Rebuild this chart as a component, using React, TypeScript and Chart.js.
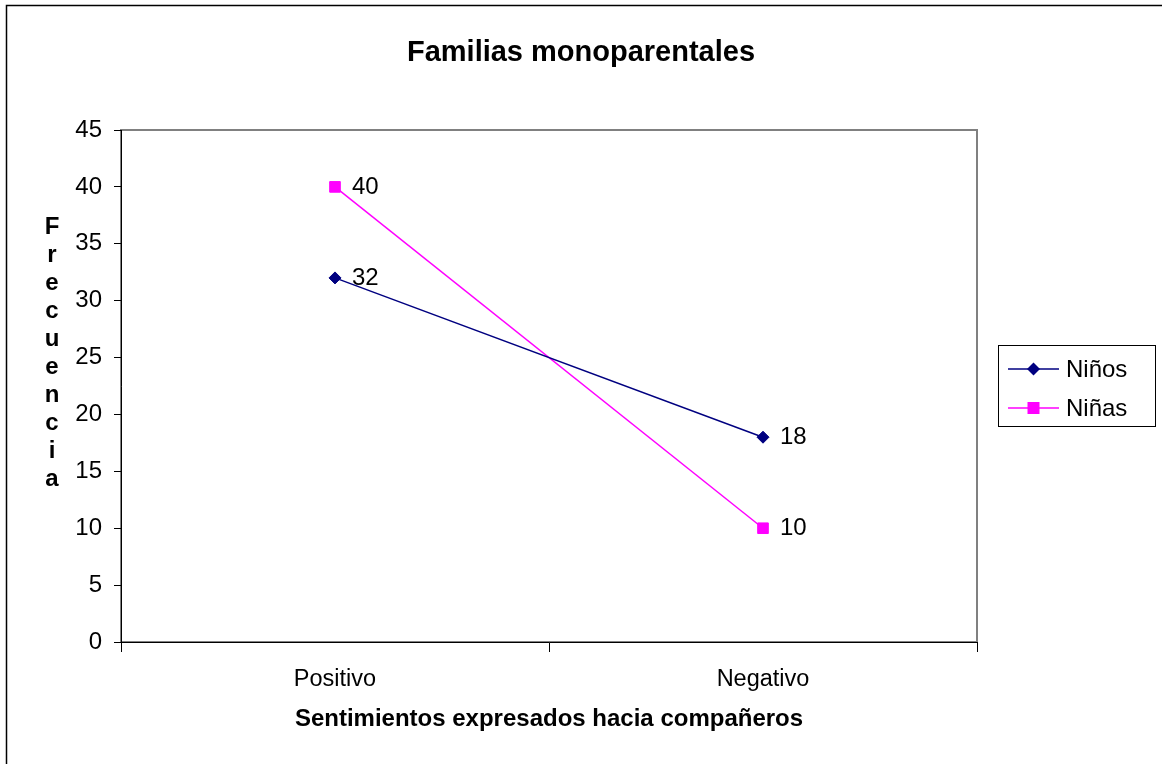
import React, { useEffect, useRef } from 'react';
import { Chart, registerables } from 'chart.js';

Chart.register(...registerables);

const chartTitle = 'Familias monoparentales';
const xAxisTitle = 'Sentimientos expresados hacia compañeros';
const yAxisTitle = 'Frecuencia';
const categories = ['Positivo', 'Negativo'];
const seriesNames = ['Niños', 'Niñas'];
const ninosValues = [32, 18];
const ninasValues = [40, 10];
const yMin = 0;
const yMax = 45;
const yStep = 5;

const FONT = "'Liberation Sans', Arial, Helvetica, sans-serif";
const NAVY = '#000080';
const MAGENTA = '#FF00FF';

const W = 1162;
const H = 764;

function drawMarker(ctx: CanvasRenderingContext2D, style: string, x: number, y: number, color: string) {
  ctx.save();
  ctx.fillStyle = color;
  ctx.beginPath();
  if (style === 'rectRot') {
    const r = 6.5;
    ctx.moveTo(x - r, y);
    ctx.lineTo(x, y - r);
    ctx.lineTo(x + r, y);
    ctx.lineTo(x, y + r);
    ctx.closePath();
  } else {
    const s = 6;
    ctx.rect(x - s, y - s, 2 * s, 2 * s);
  }
  ctx.fill();
  ctx.restore();
}

const decorPlugin = {
  id: 'decor',
  beforeDraw(chart: any) {
    const ctx = chart.ctx as CanvasRenderingContext2D;
    const a = chart.chartArea;
    ctx.save();
    ctx.fillStyle = '#ffffff';
    ctx.fillRect(0, 0, chart.width, chart.height);
    // outer frame
    ctx.strokeStyle = '#000000';
    ctx.lineWidth = 1.5;
    ctx.strokeRect(6.5, 5.5, chart.width + 20, chart.height + 20);
    // plot area frame
    ctx.strokeStyle = '#808080';
    ctx.lineWidth = 2;
    ctx.strokeRect(a.left, a.top, a.right - a.left, a.bottom - a.top);
    // chart title, centred on the whole frame
    ctx.fillStyle = '#000000';
    ctx.font = `bold 29px ${FONT}`;
    ctx.textAlign = 'center';
    ctx.textBaseline = 'middle';
    ctx.fillText(chartTitle, chart.width / 2, 53);
    ctx.restore();
  },
  afterDatasetsDraw(chart: any) {
    const ctx = chart.ctx as CanvasRenderingContext2D;
    ctx.save();
    // data labels
    ctx.fillStyle = '#000000';
    ctx.font = `24px ${FONT}`;
    ctx.textAlign = 'left';
    ctx.textBaseline = 'middle';
    chart.data.datasets.forEach((ds: any, i: number) => {
      const meta = chart.getDatasetMeta(i);
      meta.data.forEach((pt: any, j: number) => {
        ctx.fillText(String(ds.data[j]), pt.x + 17, pt.y);
      });
    });
    // y axis title, stacked letters
    ctx.font = `bold 24px ${FONT}`;
    ctx.textAlign = 'center';
    ctx.textBaseline = 'alphabetic';
    const letters = Array.from(yAxisTitle);
    letters.forEach((ch, i) => {
      ctx.fillText(ch, 52, 233.5 + i * 28.1);
    });
    // legend
    const bx = 998.5;
    const by = 345.5;
    const bw = 157;
    const bh = 81;
    ctx.strokeStyle = '#000000';
    ctx.lineWidth = 1;
    ctx.strokeRect(bx, by, bw, bh);
    const rows = [369, 408];
    chart.data.datasets.forEach((ds: any, i: number) => {
      const y = rows[i];
      ctx.strokeStyle = ds.borderColor;
      ctx.lineWidth = 1.5;
      ctx.beginPath();
      ctx.moveTo(1008, y);
      ctx.lineTo(1059, y);
      ctx.stroke();
      drawMarker(ctx, ds.pointStyle, 1033.5, y, ds.borderColor);
      ctx.fillStyle = '#000000';
      ctx.font = `24px ${FONT}`;
      ctx.textAlign = 'left';
      ctx.textBaseline = 'middle';
      ctx.fillText(ds.label, 1066, y + 1);
    });
    ctx.restore();
  },
};

export default function App() {
  const canvasRef = useRef<HTMLCanvasElement | null>(null);

  useEffect(() => {
    const canvas = canvasRef.current;
    if (!canvas) return;
    const chart = new Chart(canvas, {
      type: 'line',
      data: {
        labels: categories,
        datasets: [
          {
            label: seriesNames[0],
            data: ninosValues,
            borderColor: NAVY,
            backgroundColor: NAVY,
            borderWidth: 1.5,
            pointStyle: 'rectRot',
            pointRadius: 6,
            pointBorderWidth: 1,
            pointBackgroundColor: NAVY,
            pointBorderColor: NAVY,
            tension: 0,
            fill: false,
          },
          {
            label: seriesNames[1],
            data: ninasValues,
            borderColor: MAGENTA,
            backgroundColor: MAGENTA,
            borderWidth: 1.5,
            pointStyle: 'rect',
            pointRadius: 7.5,
            pointBorderWidth: 1,
            pointBackgroundColor: MAGENTA,
            pointBorderColor: MAGENTA,
            tension: 0,
            fill: false,
          },
        ],
      },
      options: {
        responsive: false,
        animation: false,
        events: [],
        layout: { padding: { left: 0, right: W - 977, top: 130, bottom: 0 } },
        plugins: {
          legend: { display: false },
          tooltip: { enabled: false },
          title: { display: false },
        },
        scales: {
          x: {
            type: 'category',
            offset: true,
            grid: {
              offset: true,
              drawOnChartArea: false,
              drawTicks: true,
              tickLength: 10,
              color: '#000000',
              lineWidth: 1,
            },
            border: { display: true, color: '#000000', width: 1 },
            ticks: {
              color: '#000000',
              font: { family: FONT, size: 23.5 },
              padding: 13,
              maxRotation: 0,
              autoSkip: false,
            },
            title: {
              display: true,
              text: xAxisTitle,
              color: '#000000',
              font: { family: FONT, size: 24, weight: 'bold', lineHeight: 1.2 },
              padding: { top: 0, bottom: 30 },
            },
            afterFit: (scale: any) => {
              scale.height = 122;
            },
          },
          y: {
            min: yMin,
            max: yMax,
            grid: {
              drawOnChartArea: false,
              drawTicks: true,
              tickLength: 7,
              color: '#000000',
              lineWidth: 1,
            },
            border: { display: true, color: '#000000', width: 1 },
            ticks: {
              stepSize: yStep,
              color: '#000000',
              font: { family: FONT, size: 24 },
              padding: 12,
            },
            afterFit: (scale: any) => {
              scale.width = 121;
            },
          },
        },
      },
      plugins: [decorPlugin],
    } as any);
    return () => {
      chart.destroy();
    };
  }, []);

  return (
    <div style={{ position: 'fixed', left: 0, top: 0, width: W, height: H, background: '#fff' }}>
      <canvas ref={canvasRef} width={W} height={H} style={{ display: 'block', width: W, height: H }} />
    </div>
  );
}
